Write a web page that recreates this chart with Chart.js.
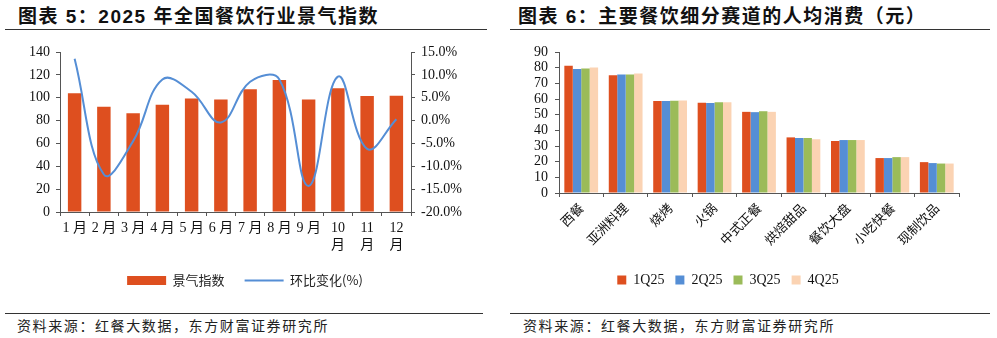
<!DOCTYPE html>
<html>
<head>
<meta charset="utf-8">
<script src="https://cdn.jsdelivr.net/npm/chart.js@4.4.1/dist/chart.umd.min.js"></script>
<style>
body{margin:0;background:#fff;width:997px;height:338px;position:relative;overflow:hidden;font-family:"Noto Sans CJK SC",sans-serif}
.title{position:absolute;top:7px;line-height:19px;font-weight:bold;font-size:19px;letter-spacing:1.5px;color:#111;font-family:"Liberation Sans","Noto Sans CJK SC",sans-serif;white-space:nowrap}
.rule{position:absolute;height:1px;background:#333}
.src{position:absolute;top:318px;line-height:14px;font-size:14px;letter-spacing:1.6px;color:#222;white-space:nowrap}
canvas{position:absolute}
</style>
</head>
<body>
<div class="title" style="left:18px">图表 5：2025 年全国餐饮行业景气指数</div>
<div class="title" style="left:518px">图表 6：主要餐饮细分赛道的人均消费（元）</div>
<div class="rule" style="left:5px;top:29px;width:482px"></div>
<div class="rule" style="left:510px;top:29px;width:480px"></div>

<canvas id="indexChart" width="490" height="265" style="left:0;top:35px"></canvas>
<canvas id="spendChart" width="500" height="265" style="left:497px;top:35px"></canvas>

<div class="rule" style="left:5px;top:313px;width:478px"></div>
<div class="rule" style="left:510px;top:313px;width:480px"></div>
<div class="src" style="left:17px">资料来源：红餐大数据，东方财富证券研究所</div>
<div class="src" style="left:523px">资料来源：红餐大数据，东方财富证券研究所</div>

<script>
// 图表5 数据
var months = ['1 月','2 月','3 月','4 月','5 月','6 月','7 月','8 月','9 月',['10','月'],['11','月'],['12','月']];
var indexValues = [103.8, 92.1, 86.5, 93.8, 99.4, 98.5, 107.4, 115.6, 98.5, 108.2, 101.5, 101.8];
var momChange = [13.5, -11.8, -4.5, 9.0, 6.3, -0.4, 8.5, 9.0, -14.3, 9.6, -6.2, 0.3];

// 图表6 数据
var segments = ['西餐','亚洲料理','烧烤','火锅','中式正餐','烘焙甜品','餐饮大盘','小吃快餐','现制饮品'];
var quarters = ['1Q25','2Q25','3Q25','4Q25'];
var q1 = [81.2, 75.2, 58.7, 57.6, 51.8, 35.5, 33.2, 22.3, 19.7];
var q2 = [79.2, 75.6, 58.7, 57.4, 51.6, 35.1, 33.8, 22.3, 19.1];
var q3 = [79.4, 75.6, 58.9, 58.0, 52.2, 35.1, 33.8, 22.9, 18.8];
var q4 = [80.1, 76.2, 59.1, 58.0, 51.8, 34.3, 33.8, 22.9, 18.8];

var red = '#DE4F1F', blue = '#558ED5', green = '#9BBB59', peach = '#FBD3B3';
var axisColor = '#555';
var serif = '"Liberation Serif", "Noto Sans CJK SC", serif';
var cjk = '"Noto Sans CJK SC", sans-serif';

var ctx = document.getElementById('indexChart').getContext('2d');
var indexChart = new Chart(ctx, {
    type: 'bar',
    data: {
        labels: months,
        datasets: [{
            label: '景气指数',
            data: indexValues,
            backgroundColor: red,
            borderWidth: 0,
            categoryPercentage: 1,
            barPercentage: 0.46,
            yAxisID: 'y',
            order: 1
        }, {
            label: '环比变化(%)',
            type: 'line',
            data: momChange,
            borderColor: blue,
            backgroundColor: blue,
            borderWidth: 2,
            pointRadius: 0,
            tension: 0.4,
            yAxisID: 'y1',
            order: 0
        }]
    },
    options: {
        responsive: false,
        animation: false,
        layout: { padding: { top: 17, bottom: 3, left: 0, right: 0 } },
        plugins: {
            tooltip: { enabled: false },
            legend: {
                position: 'bottom',
                labels: {
                    usePointStyle: true,
                    pointStyleWidth: 39,
                    boxHeight: 9,
                    padding: 20,
                    color: '#222',
                    font: { size: 13, family: cjk },
                    generateLabels: function(chart) {
                        return chart.data.datasets.map(function(ds, i) {
                            var isLine = ds.type === 'line';
                            return {
                                text: ds.label,
                                fillStyle: isLine ? blue : red,
                                strokeStyle: isLine ? blue : red,
                                lineWidth: isLine ? 2 : 0,
                                pointStyle: isLine ? 'line' : 'rect',
                                fontColor: '#222',
                                hidden: false,
                                datasetIndex: i
                            };
                        });
                    }
                }
            }
        },
        scales: {
            x: {
                grid: { offset: true, drawOnChartArea: false, tickLength: 4, color: axisColor },
                border: { display: true, color: axisColor },
                ticks: { autoSkip: false, maxRotation: 0, padding: 4, color: '#111', font: { size: 14, family: serif, lineHeight: 1.2 } },
                afterFit: function(scale) { scale.height = 42; }
            },
            y: {
                position: 'left',
                min: 0, max: 140,
                ticks: { stepSize: 20, autoSkip: false, padding: 6, color: '#111', font: { size: 14, family: serif } },
                grid: { drawOnChartArea: false, tickLength: 4, color: axisColor },
                border: { display: true, color: axisColor },
                afterFit: function(scale) { scale.width = 60; }
            },
            y1: {
                position: 'right',
                min: -20, max: 15,
                ticks: {
                    stepSize: 5, autoSkip: false, padding: 6, color: '#111', font: { size: 14, family: serif },
                    callback: function(v) { return v.toFixed(1) + '%'; }
                },
                grid: { drawOnChartArea: false, tickLength: 4, color: axisColor },
                border: { display: true, color: axisColor },
                afterFit: function(scale) { scale.width = 79; }
            }
        }
    }
});

var ctx = document.getElementById('spendChart').getContext('2d');
var spendChart = new Chart(ctx, {
    type: 'bar',
    data: {
        labels: segments,
        datasets: [
            { label: quarters[0], data: q1, backgroundColor: red },
            { label: quarters[1], data: q2, backgroundColor: blue },
            { label: quarters[2], data: q3, backgroundColor: green },
            { label: quarters[3], data: q4, backgroundColor: peach }
        ]
    },
    options: {
        responsive: false,
        animation: false,
        datasets: { bar: { categoryPercentage: 0.76, barPercentage: 1, borderWidth: 0 } },
        layout: { padding: { top: 17, bottom: 3, left: 0, right: 38 } },
        plugins: {
            tooltip: { enabled: false },
            legend: {
                position: 'bottom',
                labels: {
                    boxWidth: 9,
                    boxHeight: 9,
                    padding: 11,
                    color: '#111',
                    font: { size: 14, family: serif }
                }
            }
        },
        scales: {
            x: {
                grid: { offset: true, drawOnChartArea: false, tickLength: 4, color: axisColor },
                border: { display: true, color: axisColor },
                ticks: { autoSkip: false, minRotation: 45, maxRotation: 45, padding: 3, color: '#111', font: { size: 13, family: cjk } },
                afterFit: function(scale) { scale.height = 69; }
            },
            y: {
                min: 0, max: 90,
                ticks: { stepSize: 10, autoSkip: false, padding: 7, color: '#111', font: { size: 14, family: serif } },
                grid: { drawOnChartArea: false, tickLength: 4, color: axisColor },
                border: { display: true, color: axisColor },
                afterFit: function(scale) { scale.width = 62; }
            }
        }
    }
});
</script>
</body>
</html>
